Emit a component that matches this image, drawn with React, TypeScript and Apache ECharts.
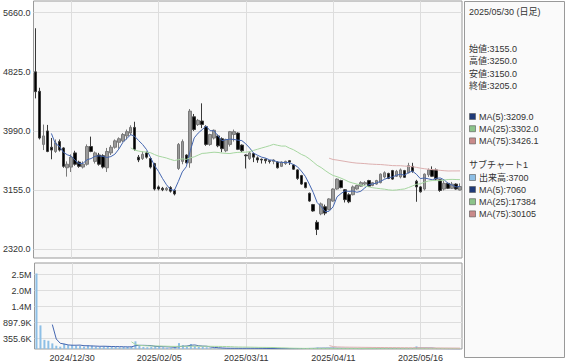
import React, { useEffect, useRef } from 'react';
import * as echarts from 'echarts';

// Trading days (Tokyo), Dec 17 2024 .. May 30 2025
const MONTH_DAYS: [string, number[]][] = [
  ['2024/12', [17, 18, 19, 20, 23, 24, 25, 26, 27, 30]],
  ['2025/01', [6, 7, 8, 9, 10, 14, 15, 16, 17, 20, 21, 22, 23, 24, 27, 28, 29, 30, 31]],
  ['2025/02', [3, 4, 5, 6, 7, 10, 12, 13, 14, 17, 18, 19, 20, 21, 25, 26, 27, 28]],
  ['2025/03', [3, 4, 5, 6, 7, 10, 11, 12, 13, 14, 17, 18, 19, 21, 24, 25, 26, 27, 28, 31]],
  ['2025/04', [1, 2, 3, 4, 7, 8, 9, 10, 11, 14, 15, 16, 17, 18, 21, 22, 23, 24, 25, 28, 30]],
  ['2025/05', [1, 2, 7, 8, 9, 12, 13, 14, 15, 16, 19, 20, 21, 22, 23, 26, 27, 28, 29, 30]],
];
const dates: string[] = MONTH_DAYS.flatMap(([m, ds]) => ds.map((d) => `${m}/${String(d).padStart(2, '0')}`));

const opens = [
  4825, 4550, 3800, 3990, 3760, 3700, 3840, 3750, 3470, 3480,
  3680, 3550, 3480, 3520, 3770, 3560, 3650, 3640, 3470, 3680,
  3760, 3830, 3850, 3920, 3960, 4040, 3620, 3600, 3680, 3600,
  3530, 3200, 3180, 3160, 3190, 3150, 3460, 3560, 3650, 3540,
  4190, 4080, 4130, 4050, 3800, 3890, 3920, 3880, 3710, 3800,
  3940, 3960, 3790, 3650, 3600, 3670, 3610, 3590, 3590, 3570,
  3560, 3550, 3490, 3530, 3570, 3510, 3440, 3360, 3260, 3110,
  2950, 2700, 2820, 2920, 2880, 3000, 3170, 3290, 3160, 3090,
  3090, 3170, 3210, 3240, 3290, 3220, 3240, 3260, 3340, 3390,
  3430, 3350, 3340, 3430, 3400, 3490, 3280, 3200, 3170, 3370,
  3440, 3440, 3300, 3170, 3250, 3180, 3240, 3155,
];
const highs = [
  5440, 4600, 4080, 4075, 3890, 3870, 3870, 3760, 3560, 3660,
  3710, 3570, 3560, 3800, 3910, 3700, 3680, 3660, 3750, 3790,
  3870, 3900, 3960, 4010, 4070, 4120, 3650, 3700, 3700, 3620,
  3540, 3220, 3200, 3200, 3210, 3170, 3820, 3870, 3660, 4300,
  4230, 4160, 4380, 4070, 3950, 4010, 3940, 3900, 3880, 3990,
  4010, 3970, 3800, 3660, 3700, 3680, 3630, 3600, 3600, 3580,
  3590, 3560, 3560, 3570, 3580, 3520, 3450, 3370, 3270, 3120,
  2960, 2730, 2980, 2950, 3040, 3180, 3320, 3300, 3170, 3110,
  3220, 3230, 3280, 3280, 3300, 3270, 3300, 3390, 3420, 3400,
  3440, 3440, 3460, 3440, 3540, 3540, 3300, 3210, 3390, 3460,
  3490, 3460, 3300, 3290, 3260, 3270, 3250, 3250,
];
const lows = [
  4450, 3870, 3720, 3690, 3590, 3680, 3700, 3470, 3345, 3410,
  3500, 3470, 3460, 3500, 3690, 3530, 3500, 3460, 3410, 3650,
  3740, 3740, 3830, 3870, 3930, 3710, 3550, 3580, 3600, 3460,
  3150, 3150, 3140, 3140, 3120, 3080, 3440, 3520, 3530, 3470,
  3990, 4060, 4030, 3780, 3780, 3870, 3760, 3690, 3690, 3770,
  3840, 3720, 3690, 3460, 3580, 3550, 3540, 3530, 3530, 3530,
  3520, 3460, 3480, 3510, 3510, 3440, 3300, 3230, 3180, 2990,
  2850, 2520, 2800, 2800, 2870, 2990, 3160, 3180, 2980, 2970,
  3080, 3160, 3200, 3220, 3200, 3210, 3230, 3250, 3320, 3310,
  3300, 3340, 3320, 3330, 3390, 3400, 2990, 3120, 3150, 3340,
  3340, 3290, 3130, 3150, 3170, 3170, 3160, 3150,
];
const closes = [
  4545, 3890, 3920, 3700, 3720, 3820, 3720, 3490, 3520, 3620,
  3520, 3490, 3520, 3770, 3700, 3680, 3520, 3480, 3700, 3760,
  3850, 3880, 3940, 3980, 4040, 3730, 3580, 3660, 3620, 3480,
  3170, 3170, 3160, 3180, 3140, 3100, 3800, 3840, 3540, 4270,
  4010, 4140, 4080, 3800, 3940, 4000, 3780, 3740, 3870, 3980,
  3980, 3730, 3710, 3640, 3680, 3620, 3580, 3580, 3570, 3560,
  3580, 3470, 3550, 3560, 3550, 3450, 3320, 3240, 3190, 3000,
  2860, 2600, 2960, 2830, 3030, 3170, 3310, 3190, 3020, 2990,
  3200, 3220, 3260, 3260, 3210, 3260, 3290, 3380, 3400, 3320,
  3310, 3420, 3440, 3335, 3500, 3420, 3200, 3130, 3380, 3440,
  3350, 3310, 3150, 3250, 3180, 3240, 3170, 3205,
];
const volumes = [
  2560000, 800000, 310000, 280000, 190000, 110000, 80000, 180000, 130000, 140000,
  110000, 100000, 80000, 120000, 110000, 80000, 70000, 90000, 100000, 80000,
  70000, 60000, 70000, 80000, 90000, 260000, 120000, 70000, 60000, 80000,
  110000, 90000, 60000, 40000, 35000, 60000, 200000, 130000, 80000, 170000,
  100000, 70000, 70000, 60000, 30000, 30000, 25000, 25000, 25000, 25000,
  25000, 25000, 20000, 30000, 25000, 20000, 18000, 15000, 15000, 12000,
  12000, 15000, 12000, 10000, 10000, 15000, 20000, 20000, 18000, 20000,
  25000, 45000, 30000, 25000, 25000, 25000, 25000, 20000, 18000, 15000,
  15000, 12000, 11300, 20000, 18000, 15000, 15000, 20000, 17000, 18000,
  15000, 15000, 13000, 15000, 20000, 20000, 90000, 15000, 17000, 18000,
  15000, 13000, 10300, 9000, 8000, 8600, 6000, 3700,
];

const labelDates = ['2024/12/30', '2025/02/05', '2025/03/11', '2025/04/11', '2025/05/16'];
const priceTicks = [2320, 3155, 3990, 4825, 5660];
const volumeTicks = [355600, 897900, 1440200, 1982500, 2524800];
const maPeriods = [5, 25, 75];
const ohlcNames = ['始値', '高値', '安値', '終値'];

const FONT = '"Liberation Sans", "Noto Sans CJK JP", sans-serif';
const MA_LINE = ['#4466b0', '#a6d6a0', '#ddb0b0'];
const MA_SWATCH = ['#1f3a78', '#8cc48a', '#c98a8a'];
const VOL_COLOR = '#8dbfe6';

function movingAverage(values: number[], n: number): (number | string)[] {
  const out: (number | string)[] = [];
  let sum = 0;
  for (let i = 0; i < values.length; i++) {
    sum += values[i];
    if (i >= n) sum -= values[i - n];
    out.push(i >= n - 1 ? sum / n : '-');
  }
  return out;
}

function volFmt(v: number): string {
  return v >= 1e6 ? (v / 1e6).toFixed(1) + 'M' : (v / 1000).toFixed(1) + 'K';
}

export default function App() {
  const ref = useRef<HTMLDivElement>(null);

  useEffect(() => {
    const chart = echarts.init(ref.current!, null, { renderer: 'svg' });
    const last = dates.length - 1;
    const priceMA = maPeriods.map((n) => movingAverage(closes, n));
    const volMA = maPeriods.map((n) => movingAverage(volumes, n));
    const candleData = dates.map((_, i) => [opens[i], closes[i], lows[i], highs[i]]);

    const isLabelDate = (_i: number, v: string) => labelDates.includes(v);

    const txt = (text: string, x: number, y: number) => ({
      type: 'text',
      x,
      y,
      silent: true,
      style: { text, fill: '#333', fontSize: 9, fontFamily: FONT, verticalAlign: 'middle', align: 'left' },
    });
    const swatch = (color: string, x: number, y: number) => ({
      type: 'rect',
      silent: true,
      shape: { x: x + 0.5, y: y - 3.5, width: 6, height: 6 },
      style: { fill: color, stroke: '#555', lineWidth: 0.6 },
    });

    const lx = 469;
    const graphic: any[] = [
      {
        type: 'rect',
        silent: true,
        shape: { x: 464.5, y: 1.5, width: 100, height: 356 },
        style: { fill: '#fafafa', stroke: '#999', lineWidth: 1 },
      },
      txt(`${dates[last]} (日足)`, lx, 12),
    ];
    const ohlcVals = [opens[last], highs[last], lows[last], closes[last]];
    ohlcNames.forEach((nm, k) => graphic.push(txt(`${nm}:${ohlcVals[k].toFixed(1)}`, lx, 49 + k * 12.4)));
    maPeriods.forEach((n, k) => {
      const y = 117 + k * 12.2;
      graphic.push(swatch(MA_SWATCH[k], lx, y));
      graphic.push(txt(`MA(${n}):${(priceMA[k][last] as number).toFixed(1)}`, lx + 10, y));
    });
    graphic.push(txt('サブチャート1', lx, 165));
    graphic.push(swatch(VOL_COLOR, lx, 178));
    graphic.push(txt(`出来高:${volumes[last]}`, lx + 10, 178));
    maPeriods.forEach((n, k) => {
      const y = 190 + k * 12.2;
      graphic.push(swatch(MA_SWATCH[k], lx, y));
      graphic.push(txt(`MA(${n}):${Math.round(volMA[k][last] as number)}`, lx + 10, y));
    });

    const option: any = {
      animation: false,
      backgroundColor: '#ffffff',
      textStyle: { fontFamily: FONT },
      grid: [
        { left: 31, top: 1, width: 431, height: 257, show: true, backgroundColor: '#f8f8f8', borderColor: '#9a9a9a', borderWidth: 1 },
        { left: 31, top: 263, width: 431, height: 86, show: true, backgroundColor: '#f8f8f8', borderColor: '#9a9a9a', borderWidth: 1 },
      ],
      xAxis: [
        {
          type: 'category', gridIndex: 0, data: dates, boundaryGap: true,
          axisLine: { show: false }, axisTick: { show: false }, axisLabel: { show: false },
          splitLine: { show: true, interval: isLabelDate, alignWithLabel: true, lineStyle: { color: '#dddddd', width: 1 } },
        },
        {
          type: 'category', gridIndex: 1, data: dates, boundaryGap: true,
          axisLine: { show: false }, axisTick: { show: false },
          axisLabel: { interval: isLabelDate, fontSize: 9, color: '#333', margin: 4, fontFamily: FONT },
          splitLine: { show: true, interval: isLabelDate, alignWithLabel: true, lineStyle: { color: '#dddddd', width: 1 } },
        },
      ],
      yAxis: [
        {
          type: 'value', gridIndex: 0, min: 2196, max: 5825, scale: true,
          axisLine: { show: false },
          axisTick: { show: false, customValues: priceTicks },
          axisLabel: { customValues: priceTicks, formatter: (v: number) => v.toFixed(1), fontSize: 9, color: '#333', margin: 3, fontFamily: FONT },
          splitLine: { show: true, lineStyle: { color: '#dddddd', width: 1 } },
        },
        {
          type: 'value', gridIndex: 1, min: 0, max: 2915000,
          axisLine: { show: false },
          axisTick: { show: false, customValues: volumeTicks },
          axisLabel: { customValues: volumeTicks, formatter: (v: number) => volFmt(v), fontSize: 9, color: '#333', margin: 3, fontFamily: FONT },
          splitLine: { show: true, lineStyle: { color: '#dddddd', width: 1 } },
        },
      ],
      series: [
        {
          type: 'candlestick', xAxisIndex: 0, yAxisIndex: 0, data: candleData, barWidth: 3,
          itemStyle: { color: '#9a9a9a', color0: '#000000', borderColor: '#7a7a7a', borderColor0: '#3a3a3a', borderWidth: 1 },
        },
        ...maPeriods.map((n, k) => ({
          type: 'line', name: `MA(${n})`, xAxisIndex: 0, yAxisIndex: 0, data: priceMA[k],
          symbol: 'none', lineStyle: { color: MA_LINE[k], width: 1 }, z: 3,
        })),
        {
          type: 'bar', xAxisIndex: 1, yAxisIndex: 1, data: volumes, barWidth: 2,
          itemStyle: { color: VOL_COLOR },
        },
        ...maPeriods.map((n, k) => ({
          type: 'line', name: `VMA(${n})`, xAxisIndex: 1, yAxisIndex: 1, data: volMA[k],
          symbol: 'none', lineStyle: { color: MA_LINE[k], width: 1 }, z: 3,
        })),
      ],
      graphic,
    };
    chart.setOption(option);
    return () => chart.dispose();
  }, []);

  return <div ref={ref} style={{ position: 'fixed', left: 0, top: 0, width: 567, height: 362 }} />;
}
